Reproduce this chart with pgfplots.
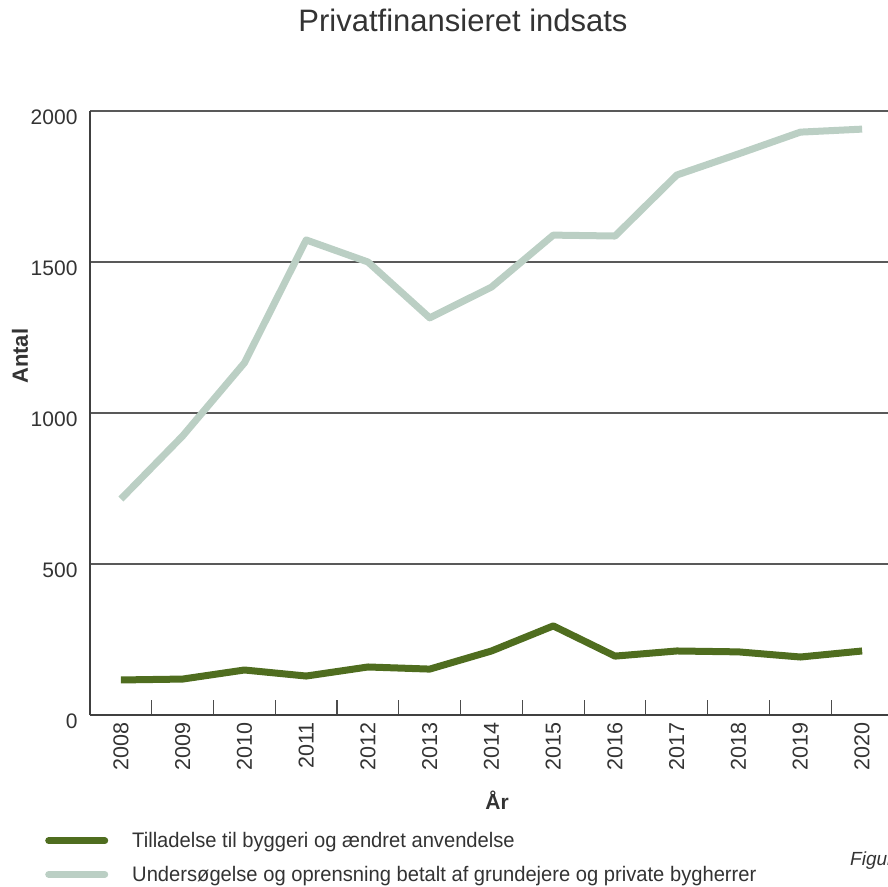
\documentclass[border=0pt]{standalone}
\usepackage{fontspec}
\setmainfont{Liberation Sans}
\usepackage{pgfplots}
\pgfplotsset{compat=1.18}
\definecolor{darkgreen}{HTML}{4F6D1F}
\definecolor{lightgreen}{HTML}{BBCFC4}
\definecolor{txt}{HTML}{333333}
\begin{document}
\begin{tikzpicture}[x=1pt,y=1pt]
\path[use as bounding box, clip] (0,0) rectangle (888,886);
\begin{axis}[
    at={(90pt,171pt)}, anchor=south west,
    scale only axis, width=803pt, height=604pt,
    xmin=2007.5, xmax=2020.5, ymin=0, ymax=2000,
    axis x line*=bottom, axis y line*=left,
    axis line style={draw=black!75, line width=1.5pt, -},
    xtick={2008,...,2020},
    minor xtick={2008.5,2009.5,...,2019.5},
    ytick={0,500,...,2000},
    tick align=inside,
    major tick length=0pt, minor tick length=15pt,
    minor tick style={draw=black!70, line width=1.2pt},
    ymajorgrids,
    grid style={draw=black!65, line width=1.2pt},
    /pgf/number format/assume math mode=true,
    /pgf/number format/1000 sep={},
    xticklabel shift=4pt,
    xticklabel style={rotate=90, anchor=east, font=\fontsize{21.5}{21.5}\selectfont, text=txt},
    yticklabel style={font=\fontsize{21}{21}\selectfont, text=txt, xshift=-9pt, yshift=-6pt},
    title={Privatfinansieret indsats},
    title style={at={(axis description cs:0.4645,1.1225)}, anchor=base, font=\fontsize{31}{31}\selectfont, text=txt},
    xlabel={\textbf{År}},
    xlabel style={at={(axis description cs:0.507,-0.141)}, anchor=center, font=\fontsize{21}{21}\selectfont, text=txt},
    ylabel={\textbf{Antal}},
    ylabel style={at={(axis description cs:-0.087,0.594)}, anchor=center, rotate=0, font=\fontsize{22}{22}\selectfont, text=txt},
    legend style={at={(axis description cs:-0.056,-0.236)}, anchor=west, draw=none, fill=none,
        inner sep=0pt, row sep=13pt, font=\fontsize{21}{21}\selectfont, text=txt},
    legend cell align=left,
    legend image code/.code={\draw[#1, line cap=round] (0pt,0pt) -- (56pt,0pt);},
]
\addplot[darkgreen, line width=7pt, line join=round] coordinates {
    (2008,116) (2009,119) (2010,149) (2011,129) (2012,159) (2013,152)
    (2014,212) (2015,295) (2016,195) (2017,212) (2018,209) (2019,192) (2020,212)
};
\addlegendentry{\hspace{22pt}\scalebox{0.96}[1]{Tilladelse til byggeri og ændret anvendelse}}
\addplot[lightgreen, line width=7pt, line join=round] coordinates {
    (2008,715) (2009,924) (2010,1166) (2011,1573) (2012,1500) (2013,1315)
    (2014,1417) (2015,1589) (2016,1586) (2017,1788) (2018,1858) (2019,1930) (2020,1940)
};
\addlegendentry{\hspace{22pt}\scalebox{0.96}[1]{Undersøgelse og oprensning betalt af grundejere og private bygherrer}}
\end{axis}
\node[anchor=west, text=txt, font=\fontsize{19}{19}\selectfont\itshape, inner sep=0pt] at (850,25) {Figur};
\end{tikzpicture}
\end{document}
